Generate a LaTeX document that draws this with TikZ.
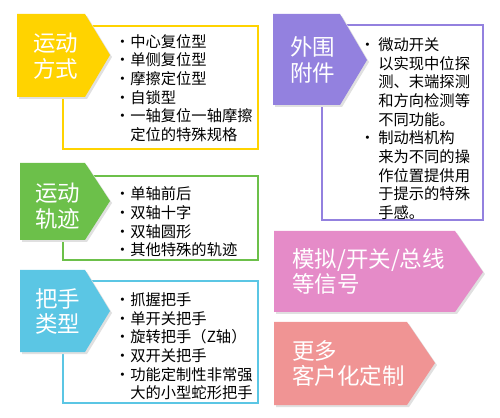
\documentclass[tikz,border=0pt]{standalone}
\usepackage{fontspec}
\newfontfamily\cjk{Noto Sans CJK SC}
\usetikzlibrary{positioning}
\definecolor{yel}{HTML}{FFD300}
\definecolor{grn}{HTML}{6CC04A}
\definecolor{blu}{HTML}{5BC6E4}
\definecolor{pur}{HTML}{9381DF}
\definecolor{pnk}{HTML}{E58BC8}
\definecolor{sal}{HTML}{F09494}
\newlength\px \setlength\px{0.02cm}
\newcommand{\itm}[1]{\makebox[#1\px][l]{\hspace*{-4.5\px}·}}

\begin{document}
\begin{tikzpicture}[x=0.02cm,y=-0.02cm]
  \tikzset{
    panel/.style={draw=#1,line width=1.1pt,fill=white},
    shade/.style={fill=black!12},
    tagtext/.style={text=white,font=\cjk\fontsize{12.8}{14.5}\selectfont,
                    align=left,inner sep=0pt},
    items/.style={font=\cjk\fontsize{8.7}{10.6}\selectfont,align=left,
                  inner sep=0pt,anchor=north west},
  }
  \useasboundingbox (0,0) rectangle (500,418);
  % ---- 运动方式 ----
  \draw[panel=yel] (63,26) rectangle (258,149);
  \fill[shade] (19,16) -- (87,16) -- (112,57) -- (87,99) -- (19,99) -- cycle;
  \fill[yel] (17,14) -- (85,14) -- (110,55) -- (85,97) -- (17,97) -- cycle;
  \node[tagtext] (mode) at (56,56) {运动\\方式};
  \node[items] (modelist) at (119,34)
       {\itm{11}中心复位型\\\itm{11}单侧复位型\\\itm{11}摩擦定位型\\\itm{11}自锁型\\
        \itm{11}一轴复位一轴摩擦\\\hspace*{11\px}定位的特殊规格};
  % ---- 运动轨迹 ----
  \draw[panel=grn] (63,176) rectangle (258,260);
  \fill[shade] (22,165) -- (87,165) -- (112,203) -- (87,242) -- (22,242) -- cycle;
  \fill[grn] (20,163) -- (85,163) -- (110,201) -- (85,240) -- (20,240) -- cycle;
  \node[tagtext] (track) at (57.5,206) {运动\\轨迹};
  \node[items] (tracklist) at (119,186.5)
       {\itm{11}单轴前后\\\itm{11}双轴十字\\\itm{11}双轴圆形\\\itm{11}其他特殊的轨迹};
  % ---- 把手类型 ----
  \draw[panel=blu] (63,281) rectangle (258,403);
  \fill[shade] (22,272) -- (87,272) -- (112,313) -- (87,354) -- (22,354) -- cycle;
  \fill[blu] (20,270) -- (85,270) -- (110,311) -- (85,352) -- (20,352) -- cycle;
  \node[tagtext] (grip) at (57.5,311.5) {把手\\类型};
  \node[items] (griplist) at (119,292.5)
       {\itm{11}抓握把手\\\itm{11}单开关把手\\\itm{11}旋转把手（Z轴）\\\itm{11}双开关把手\\
        \itm{11}功能定制性非常强\\\hspace*{11\px}大的小型蛇形把手};
  % ---- 外围附件 ----
  \draw[panel=pur] (322,25) rectangle (483,220);
  \fill[shade] (275,16) -- (342,16) -- (369,62) -- (342,107) -- (275,107) -- cycle;
  \fill[pur] (273,14) -- (340,14) -- (367,60) -- (340,105) -- (273,105) -- cycle;
  \node[tagtext] (extra) at (312.5,60) {外围\\附件};
  \node[items] (extralist) at (364,37.5)
       {\itm{14}微动开关\\\hspace*{14\px}以实现中位探\\\hspace*{14\px}测、末端探测\\
        \hspace*{14\px}和方向检测等\\\hspace*{14\px}不同功能。\\
        \itm{14}制动档机构\\\hspace*{14\px}来为不同的操\\\hspace*{14\px}作位置提供用\\
        \hspace*{14\px}于提示的特殊\\\hspace*{14\px}手感。};
  % ---- 信号 ----
  \fill[shade] (276,233) -- (457,233) -- (485,274) -- (457,314) -- (276,314) -- cycle;
  \fill[pnk] (274,231) -- (455,231) -- (483,272) -- (455,312) -- (274,312) -- cycle;
  \node[tagtext,anchor=west] (signal) at (292,271.5) {模拟/开关/总线\\等信号};
  % ---- 定制 ----
  \fill[shade] (276,324) -- (409,324) -- (437,365) -- (409,407) -- (276,407) -- cycle;
  \fill[sal] (274,322) -- (407,322) -- (435,363) -- (407,405) -- (274,405) -- cycle;
  \node[tagtext,anchor=west] (custom) at (292,363.5) {更多\\客户化定制};
\end{tikzpicture}
\end{document}
